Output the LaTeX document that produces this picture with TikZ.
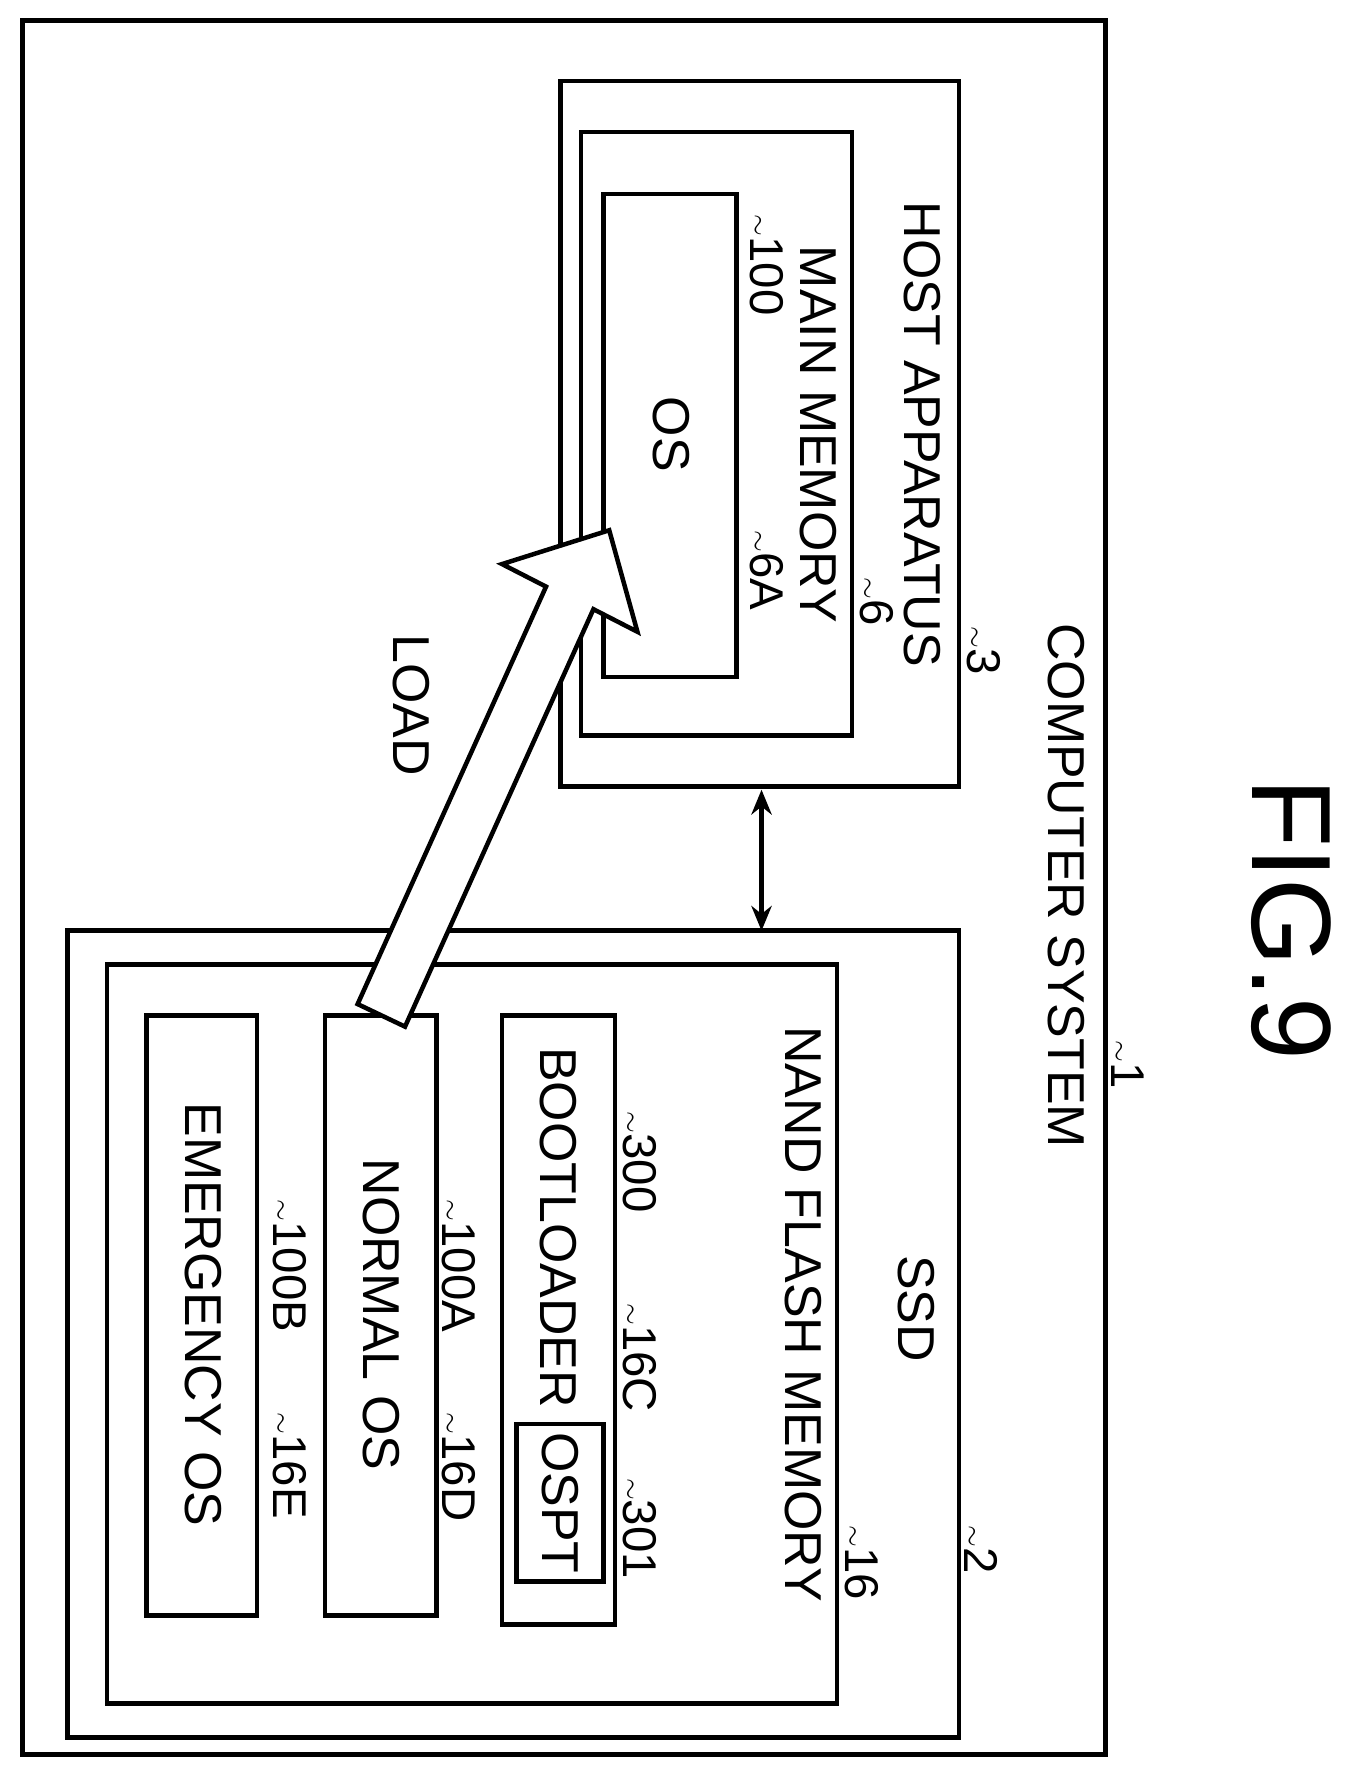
\documentclass[tikz,border=0pt]{standalone}
\usepackage{fontspec}
\usetikzlibrary{arrows.meta}
\setmainfont{Liberation Sans}
\newcommand{\sq}{{\fontsize{36}{36}\selectfont$\sim$}}
\begin{document}
\begin{tikzpicture}[x=1pt,y=-1pt,
  box/.style={draw,line width=4pt},
  lab/.style={rotate=-90,font=\fontsize{46}{50}\selectfont,inner sep=0pt},
  ref/.style={rotate=-90,anchor=west,font=\fontsize{42}{46}\selectfont,inner sep=0pt}]
\useasboundingbox (0,0) rectangle (1200,1576);
\draw[box] (20,18) rectangle (980,1555);
\draw[box] (497,72) rectangle (850,697);
\draw[box] (515,117) rectangle (755,652);
\draw[box] (535,172) rectangle (653,600);
\draw[box] (60,825) rectangle (850,1540);
\draw[box] (95,855) rectangle (742,1510);
\draw[box] (445,900) rectangle (545,1440);
\draw[box] (458,1262) rectangle (535,1402);
\draw[box] (288,900) rectangle (387,1432);
\draw[box] (130,900) rectangle (228,1432);
\coordinate (h) at (675,700); \coordinate (s) at (675,825);
\draw[line width=4pt,{Stealth[length=22pt,width=18pt]}-{Stealth[length=22pt,width=18pt]}] (h) -- (s);
\draw[line width=4pt,fill=white,line join=miter] (317,890) -- (484,520) -- (445,500) -- (540,470) -- (565,560) -- (526,540) -- (359,910) -- cycle;
\node[rotate=-90,font=\fontsize{100}{110}\selectfont] (fig) at (1145,815) {FIG.9};
\node[lab] (cs) at (945,785) {COMPUTER SYSTEM};
\node[ref] (r1) at (1000,922) {\sq1};
\node[lab] (ha) at (818,385) {HOST APPARATUS};
\node[ref] (r3) at (872,555) {\sq3};
\node[lab] (mm) at (725,385) {MAIN MEMORY};
\node[ref] (r6) at (777,512) {\sq6};
\node[ref] (r100) at (680,190) {\sq100};
\node[ref] (r6a) at (680,470) {\sq6A};
\node[lab] (os) at (595,385) {OS};
\node[lab] (load) at (365,625) {LOAD};
\node[lab] (ssd) at (812,1160) {SSD};
\node[lab] (nand) at (712,1165) {NAND FLASH MEMORY};
\node[ref] (r16) at (764,1352) {\sq16};
\node[ref] (r2) at (870,1352) {\sq2};
\node[ref] (r300) at (567,985) {\sq300};
\node[ref] (r16c) at (567,1155) {\sq16C};
\node[ref] (r301) at (567,1310) {\sq301};
\node[lab] (bl) at (495,1088) {BOOTLOADER};
\node[lab] (ospt) at (497,1332) {OSPT};
\node[lab] (nos) at (338,1165) {NORMAL OS};
\node[ref] (r100a) at (407,1063) {\sq100A};
\node[ref] (r16d) at (407,1252) {\sq16D};
\node[lab] (eos) at (180,1165) {EMERGENCY OS};
\node[ref] (r100b) at (257,1063) {\sq100B};
\node[ref] (r16e) at (257,1252) {\sq16E};
\end{tikzpicture}
\end{document}
